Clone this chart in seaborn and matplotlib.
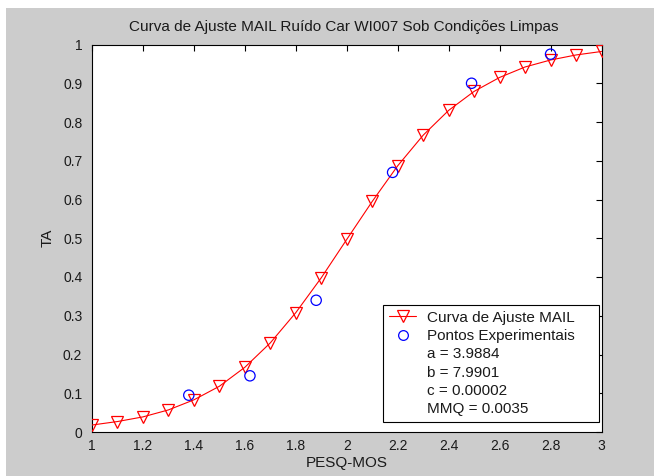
import matplotlib
matplotlib.use("Agg")
import matplotlib.pyplot as plt
import seaborn as sns
import pandas as pd
from matplotlib.lines import Line2D
from matplotlib.patches import Rectangle

# Data
fit_x = [1.0, 1.1, 1.2, 1.3, 1.4, 1.5, 1.6, 1.7, 1.8, 1.9, 2.0,
         2.1, 2.2, 2.3, 2.4, 2.5, 2.6, 2.7, 2.8, 2.9, 3.0]
fit_y = [0.018, 0.027, 0.039, 0.057, 0.083, 0.118, 0.167, 0.230, 0.308, 0.398, 0.497,
         0.595, 0.687, 0.766, 0.830, 0.879, 0.915, 0.942, 0.960, 0.973, 0.982]
exp_x = [1.38, 1.62, 1.88, 2.18, 2.49, 2.80]
exp_y = [0.095, 0.145, 0.340, 0.670, 0.900, 0.975]
x_ticks = [1, 1.2, 1.4, 1.6, 1.8, 2, 2.2, 2.4, 2.6, 2.8, 3]
x_tick_labels = ["1", "1.2", "1.4", "1.6", "1.8", "2", "2.2", "2.4", "2.6", "2.8", "3"]
y_ticks = [0, 0.1, 0.2, 0.3, 0.4, 0.5, 0.6, 0.7, 0.8, 0.9, 1]
y_tick_labels = ["0", "0.1", "0.2", "0.3", "0.4", "0.5", "0.6", "0.7", "0.8", "0.9", "1"]
legend_labels = ["Curva de Ajuste MAIL", "Pontos Experimentais",
                 "a = 3.9884", "b = 7.9901", "c = 0.00002", "MMQ = 0.0035"]
title = "Curva de Ajuste MAIL Ruído Car WI007 Sob Condições Limpas"
xlabel = "PESQ-MOS"
ylabel = "TA"

sns.set_style("white")
plt.rcParams["font.family"] = ["Liberation Sans", "DejaVu Sans"]
plt.rcParams["font.size"] = 10

GREY = "#cccccc"
TXT = "#1a1a1a"
fig = plt.figure(figsize=(6.54, 4.76), dpi=100, facecolor="white")
fig.patches.append(Rectangle((6 / 654, 0), 1, 1 - 8 / 476, transform=fig.transFigure,
                             facecolor=GREY, edgecolor="none", zorder=-10))
ax = fig.add_axes([92 / 654, 44 / 476, 509.5 / 654, 387.5 / 476])
ax.set_facecolor("white")

df_fit = pd.DataFrame({"x": fit_x, "y": fit_y})
df_exp = pd.DataFrame({"x": exp_x, "y": exp_y})

sns.lineplot(data=df_fit, x="x", y="y", ax=ax, color="red", linewidth=0.8,
             marker="v", markersize=8.5, markerfacecolor="none",
             markeredgecolor="red", markeredgewidth=0.9, zorder=3)
sns.scatterplot(data=df_exp, x="x", y="y", ax=ax, marker="o", s=55,
                facecolor="none", edgecolor="blue", linewidth=0.9, zorder=4)

ax.set_xlim(1, 3)
ax.set_ylim(0, 1)
ax.set_xticks(x_ticks)
ax.set_xticklabels(x_tick_labels)
ax.set_yticks(y_ticks)
ax.set_yticklabels(y_tick_labels)
ax.tick_params(direction="in", length=4, width=0.8, color="black",
               top=True, right=True, labelsize=10, labelcolor=TXT)
ax.tick_params(axis="x", pad=5)
ax.tick_params(axis="y", pad=7)
for s in ax.spines.values():
    s.set_visible(True)
    s.set_color("black")
    s.set_linewidth(0.8)

fig.text(344 / 654, 1 - 27 / 476, title, fontsize=11, color=TXT,
         ha="center", va="center")
ax.set_xlabel(xlabel, fontsize=11, color=TXT)
ax.xaxis.set_label_coords(0.5, -0.062)
ax.set_ylabel(ylabel, fontsize=11, color=TXT)
ax.yaxis.set_label_coords(-0.073, 0.5)

blank = Line2D([], [], linestyle="none", marker=None)
handles = [
    Line2D([], [], color="red", linewidth=0.8, marker="v", markersize=8.5,
           markerfacecolor="none", markeredgecolor="red", markeredgewidth=0.9),
    Line2D([], [], linestyle="none", marker="o", markersize=7,
           markerfacecolor="none", markeredgecolor="blue", markeredgewidth=0.9),
    blank, blank, blank, blank,
]
leg = ax.legend(handles, legend_labels, loc="lower left",
                bbox_to_anchor=((383 - 92) / 509.5, 10 / 387.5, 216 / 509.5, 0.2),
                mode="expand", frameon=True, fancybox=False,
                framealpha=1, edgecolor="black", fontsize=11,
                handlelength=1.8, handletextpad=0.7, labelspacing=0.28,
                borderpad=0.38, borderaxespad=0)
leg.get_frame().set_linewidth(0.8)
for t in leg.get_texts():
    t.set_color(TXT)

fig.savefig("out.png", dpi=100, facecolor=fig.get_facecolor())
